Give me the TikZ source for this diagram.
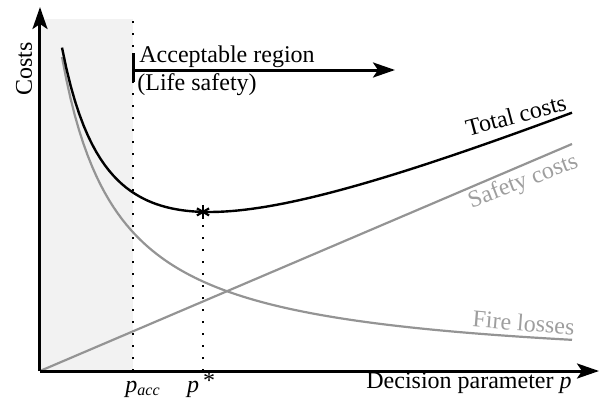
\documentclass[tikz,border=0pt]{standalone}
\usepackage{fontspec}
\setmainfont{Liberation Serif}
\usetikzlibrary{arrows.meta}

\begin{document}
\begin{tikzpicture}[x=0.5pt,y=0.5pt,font=\fontsize{12}{14}\selectfont,
	axis/.style={line width=1.5pt,-{Stealth[length=11pt,width=7.5pt,inset=2.5pt]}},
	guide/.style={line width=1pt,dash pattern=on 0.8pt off 5.2pt},
	curve/.style={line width=1.2pt},
	lightcurve/.style={line width=1.1pt,draw=black!42},
	lightlabel/.style={text=black!38}]
		\useasboundingbox (-40,-32) rectangle (559,371);
		\coordinate (O) at (0,0);
		\coordinate (X) at (559,0);
		\coordinate (Y) at (0,364);
		\coordinate (A) at (93,352);
		\coordinate (Abot) at (93,0);
		\coordinate (P) at (163,0);
		\coordinate (S) at (163,159.1);
		\fill[black!5] (O) rectangle (A);
		\draw[guide] (Abot)--(A);
		\draw[guide] (P)--(S);
		% cost curves
		\draw[lightcurve] (O)--(532,227);
		\draw[lightcurve] plot[domain=22:532,samples=120] (\x,{176.47/(\x+34.2)*100});
		\draw[curve] plot[domain=22:532,samples=120] (\x,{0.427*\x+176.47/(\x+34.2)*100});
		\draw[line width=1.1pt] ([shift={(90:7)}]S)--([shift={(270:7)}]S);
		\draw[line width=1.1pt] ([shift={(30:7)}]S)--([shift={(210:7)}]S);
		\draw[line width=1.1pt] ([shift={(150:7)}]S)--([shift={(330:7)}]S);
		\draw[axis] (O)--(Y);
		\draw[axis] (O)--(X);
		% acceptable region
		\coordinate (B) at (93,318);
		\coordinate (C) at (93,289);
		\coordinate (D) at (93,301);
		\coordinate (E) at (355,301);
		\draw[line width=1.5pt] (B)--(C);
		\draw[axis] (D)--(E);
		\node[anchor=base west,inner sep=0pt] (acc) at (99,309) {Acceptable region};
		\node[anchor=base west,inner sep=0pt] (life) at (97,281) {(Life safety)};
		% labels
		\node[rotate=90] (costs) at (-16,302) {Costs};
		\node[anchor=base east,inner sep=0pt] (dec) at (532,-17) {Decision parameter \textit{p}};
		\node[anchor=base,inner sep=0pt] (pacc) at (103,-21) {\textit{p}\textsubscript{\textit{acc}}};
		\node[anchor=base,inner sep=0pt] (pstar) at (161,-21) {\textit{p}\,\raisebox{0.35ex}{*}};
		\node[rotate=15,anchor=base,inner sep=0pt] (tot) at (478,248) {Total costs};
		\node[rotate=21,anchor=base,inner sep=0pt,lightlabel] (saf) at (485.5,183.5) {Safety costs};
		\node[rotate=-4.6,anchor=base,inner sep=0pt,lightlabel] (fire) at (483,40) {Fire losses};
\end{tikzpicture}
\end{document}
